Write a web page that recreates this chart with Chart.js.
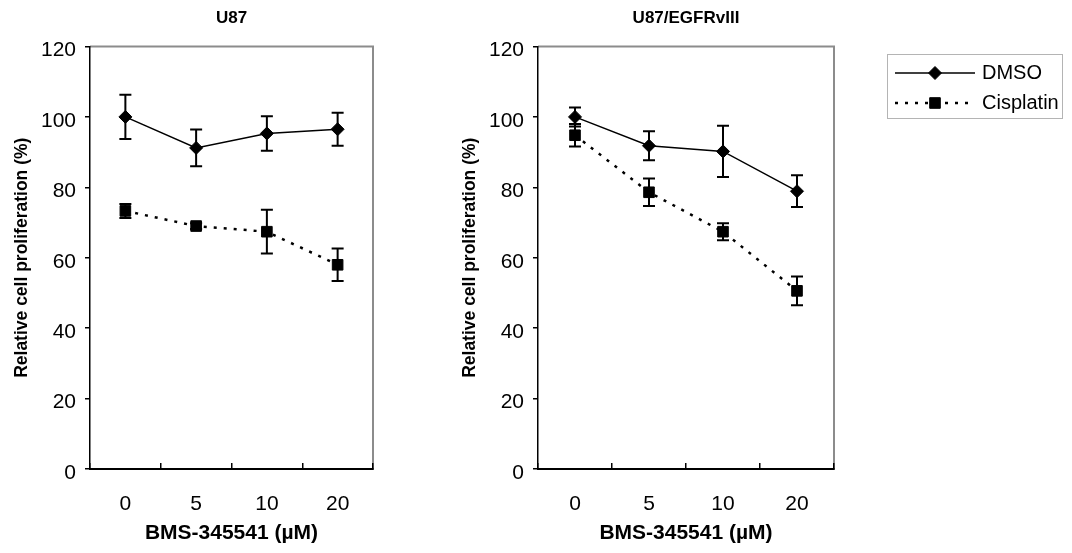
<!DOCTYPE html>
<html lang="en">
<head>
<meta charset="UTF-8">
<title>BMS-345541 proliferation</title>
<script src="https://cdn.jsdelivr.net/npm/chart.js"></script>
<style>
  body { margin: 0; background: #fff; }
  #wrap { position: relative; width: 1072px; height: 553px; }
  canvas { position: absolute; top: 0; }
  #chartU87 { left: 0; }
  #chartVIII { left: 448px; }
</style>
</head>
<body>
<div id="wrap">
  <canvas id="chartU87" width="400" height="553"></canvas>
  <canvas id="chartVIII" width="624" height="553"></canvas>
</div>
<script>
// data
const doses = ['0', '5', '10', '20'];
const yTicks = [0, 20, 40, 60, 80, 100, 120];
const seriesNames = ['DMSO', 'Cisplatin'];

// U87
const u87Dmso = [100, 91.2, 95.3, 96.5];
const u87DmsoErr = [6.3, 5.2, 4.9, 4.7];
const u87Cis = [73.3, 69.0, 67.4, 58.0];
const u87CisErr = [2.0, 0.8, 6.2, 4.6];

// U87/EGFRvIII
const viiiDmso = [100, 91.8, 90.2, 78.9];
const viiiDmsoErr = [2.7, 4.1, 7.3, 4.5];
const viiiCis = [94.8, 78.6, 67.4, 50.6];
const viiiCisErr = [3.2, 3.9, 2.4, 4.1];

const FONT = 'Arial, "Liberation Sans", sans-serif';
Chart.defaults.font.family = FONT;
Chart.defaults.color = '#000';

// gray frame on top and right, drawn under the axes
const frameLines = {
  id: 'frameLines',
  beforeDraw(chart) {
    const { ctx, chartArea: a } = chart;
    ctx.save();
    ctx.strokeStyle = '#8c8c8c';
    ctx.lineWidth = 2;
    ctx.beginPath();
    ctx.moveTo(a.left, a.top);
    ctx.lineTo(a.right, a.top);
    ctx.lineTo(a.right, a.bottom);
    ctx.stroke();
    ctx.restore();
  }
};

// +/- error bars with caps
const errorBars = {
  id: 'errorBars',
  afterDatasetsDraw(chart) {
    const { ctx } = chart;
    const yScale = chart.scales.y;
    chart.data.datasets.forEach((ds, i) => {
      const meta = chart.getDatasetMeta(i);
      ctx.save();
      ctx.strokeStyle = '#000';
      ctx.lineWidth = 2;
      meta.data.forEach((pt, j) => {
        const e = ds.errors[j];
        const top = yScale.getPixelForValue(ds.data[j] + e);
        const bot = yScale.getPixelForValue(ds.data[j] - e);
        ctx.beginPath();
        ctx.moveTo(pt.x, top); ctx.lineTo(pt.x, bot);
        ctx.moveTo(pt.x - 6, top); ctx.lineTo(pt.x + 6, top);
        ctx.moveTo(pt.x - 6, bot); ctx.lineTo(pt.x + 6, bot);
        ctx.stroke();
      });
      ctx.restore();
    });
  }
};

// panel title centred over the plot area
const panelTitle = {
  id: 'panelTitle',
  afterDraw(chart, args, opts) {
    const { ctx, chartArea: a } = chart;
    ctx.save();
    ctx.font = 'bold 17px ' + FONT;
    ctx.fillStyle = '#000';
    ctx.textAlign = 'center';
    ctx.textBaseline = 'middle';
    ctx.fillText(opts.text, (a.left + a.right) / 2, opts.y);
    ctx.restore();
  }
};

// boxed legend with line + marker samples
const sampleLegend = {
  id: 'sampleLegend',
  afterDraw(chart, args, opts) {
    if (!opts.show) return;
    const { ctx } = chart;
    const { x, y, w, h } = opts.box;
    ctx.save();
    ctx.strokeStyle = '#b4b4b4';
    ctx.lineWidth = 1;
    ctx.strokeRect(x + 0.5, y + 0.5, w, h);
    ctx.font = '20px ' + FONT;
    ctx.textBaseline = 'middle';
    ctx.textAlign = 'left';
    chart.data.datasets.forEach((ds, i) => {
      const rowY = y + 19 + i * 30;
      const x0 = x + 8, x1 = x + 88, xm = (x0 + x1) / 2;
      ctx.strokeStyle = ds.borderColor;
      ctx.lineWidth = ds.borderWidth;
      ctx.setLineDash(ds.borderDash || []);
      ctx.beginPath();
      ctx.moveTo(x0, rowY);
      ctx.lineTo(x1, rowY);
      ctx.stroke();
      ctx.setLineDash([]);
      ctx.fillStyle = ds.backgroundColor;
      ctx.lineWidth = 1;
      Chart.helpers.drawPoint(ctx, { pointStyle: ds.pointStyle, radius: ds.pointRadius, borderWidth: 1, rotation: 0 }, xm, rowY);
      ctx.fillStyle = '#000';
      ctx.fillText(ds.label, x + 95, rowY);
    });
    ctx.restore();
  }
};

function makeDatasets(dmso, dmsoErr, cis, cisErr) {
  return [
    {
      label: seriesNames[0], data: dmso, errors: dmsoErr,
      borderColor: '#000', backgroundColor: '#000', borderWidth: 1.5,
      pointStyle: 'rectRot', pointRadius: 6.5, pointBorderWidth: 1
    },
    {
      label: seriesNames[1], data: cis, errors: cisErr,
      borderColor: '#000', backgroundColor: '#000', borderWidth: 2.5, borderDash: [3, 7],
      pointStyle: 'rect', pointRadius: 7.5, pointBorderWidth: 1
    }
  ];
}

function makeChart(id, title, datasets, padRight, legend) {
  return new Chart(document.getElementById(id), {
    type: 'line',
    data: { labels: doses, datasets: datasets },
    plugins: [frameLines, errorBars, panelTitle, sampleLegend],
    options: {
      responsive: false,
      animation: false,
      layout: { padding: { top: 46.5, right: padRight, bottom: 0, left: 0 } },
      plugins: {
        legend: { display: false },
        tooltip: { enabled: false },
        panelTitle: { text: title, y: 18 },
        sampleLegend: legend
      },
      scales: {
        x: {
          offset: true,
          afterFit: s => { s.height = 84; },
          border: { color: '#000', width: 2 },
          grid: { offset: true, drawOnChartArea: false, tickLength: -6, color: '#000', lineWidth: 1.5 },
          ticks: { padding: 29, font: { size: 21 }, color: '#000', maxRotation: 0 },
          title: {
            display: true, text: 'BMS-345541 (µM)', color: '#000',
            font: { size: 21, weight: 'bold' }, padding: { top: 0, bottom: 7 }
          }
        },
        y: {
          min: 0, max: 120,
          afterBuildTicks: s => { s.ticks = yTicks.map(v => ({ value: v })); },
          afterFit: s => { s.width = 90; },
          border: { color: '#000', width: 1.5 },
          grid: { drawOnChartArea: false, tickLength: 5, color: '#000', lineWidth: 1.5 },
          ticks: { padding: 9, labelOffset: 4, font: { size: 21 }, color: '#000' },
          title: {
            display: true, text: 'Relative cell proliferation (%)', color: '#000',
            font: { size: 17.5, weight: 'bold' }, padding: { top: 12, bottom: 0 }
          }
        }
      }
    }
  });
}

makeChart('chartU87', 'U87', makeDatasets(u87Dmso, u87DmsoErr, u87Cis, u87CisErr), 27, { show: false });
makeChart('chartVIII', 'U87/EGFRvIII', makeDatasets(viiiDmso, viiiDmsoErr, viiiCis, viiiCisErr), 238,
  { show: true, box: { x: 439, y: 54, w: 175, h: 64 } });
</script>
</body>
</html>
